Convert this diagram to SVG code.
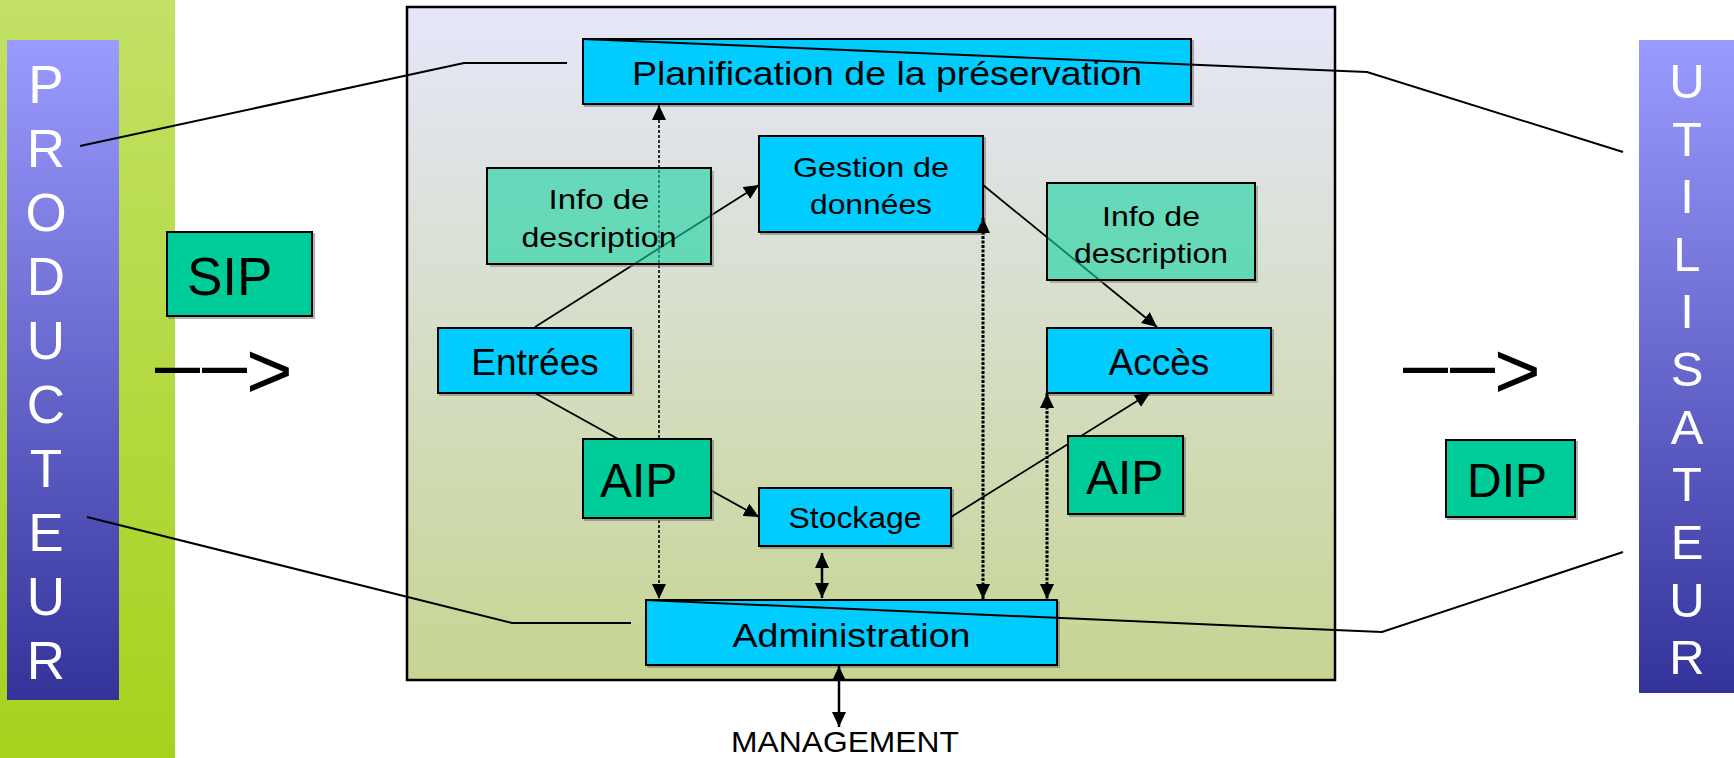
<svg xmlns="http://www.w3.org/2000/svg" width="1734" height="758" viewBox="0 0 1734 758">
  <defs>
    <linearGradient id="bandGreen" x1="0" y1="0" x2="0" y2="1">
      <stop offset="0" stop-color="#c3e166"/>
      <stop offset="1" stop-color="#a6d21e"/>
    </linearGradient>
    <linearGradient id="actorBlue" x1="0" y1="0" x2="0" y2="1">
      <stop offset="0" stop-color="#9b9bff"/>
      <stop offset="1" stop-color="#33339a"/>
    </linearGradient>
    <linearGradient id="systemFill" x1="0" y1="0" x2="0" y2="1">
      <stop offset="0" stop-color="#e6e6fa"/>
      <stop offset="1" stop-color="#c6d592"/>
    </linearGradient>
    <filter id="shadow" x="-5%" y="-5%" width="115%" height="120%">
      <feDropShadow dx="2" dy="2" stdDeviation="0.6" flood-color="#707070" flood-opacity="0.55"/>
    </filter>
    <marker id="tri" viewBox="0 0 15 14" refX="15" refY="7" markerWidth="15" markerHeight="14" markerUnits="userSpaceOnUse" orient="auto-start-reverse">
      <path d="M0,0 L15,7 L0,14 z" fill="#000"/>
    </marker>
  </defs>
  <style>
    .lbl { font-family: "Liberation Sans", Arial, sans-serif; fill: #000; }
    .mid { text-anchor: middle; }
    .actor { font-family: "Liberation Sans", Arial, sans-serif; fill: #fff; text-anchor: middle; }
    .func { fill: #00ccff; stroke: #000; stroke-width: 2; filter: url(#shadow); }
    .pkg { fill: #00cc99; stroke: #000; stroke-width: 2; filter: url(#shadow); }
    .info { fill: #16d3a2; fill-opacity: 0.6; stroke: #000; stroke-width: 2; }
    .edge { fill: none; stroke: #8a8a8a; stroke-opacity: 0.6; stroke-width: 2; }
    .wire { fill: none; stroke: #000; stroke-width: 2; }
    .flow { fill: none; stroke: #000; stroke-width: 1.8; marker-end: url(#tri); }
    .both { fill: none; stroke: #000; stroke-width: 2.5; marker-start: url(#tri); marker-end: url(#tri); }
    .dotThin { fill: none; stroke: #000; stroke-width: 1.6; stroke-dasharray: 3 2; marker-start: url(#tri); marker-end: url(#tri); }
    .dotBold { fill: none; stroke: #000; stroke-width: 3; stroke-dasharray: 3 1.5; marker-start: url(#tri); marker-end: url(#tri); }
  </style>

  <!-- producer side -->
  <g id="producteur">
    <rect x="0" y="0" width="175" height="758" fill="url(#bandGreen)"/>
    <rect x="7" y="40" width="112" height="660" fill="url(#actorBlue)"/>
    <g class="actor" font-size="53">
      <text x="46" y="103">P</text>
      <text x="46" y="167">R</text>
      <text x="46" y="231">O</text>
      <text x="46" y="295">D</text>
      <text x="46" y="359">U</text>
      <text x="46" y="423">C</text>
      <text x="46" y="487">T</text>
      <text x="46" y="551">E</text>
      <text x="46" y="615">U</text>
      <text x="46" y="679">R</text>
    </g>
  </g>

  <!-- consumer side -->
  <g id="utilisateur">
    <rect x="1639" y="40" width="95" height="653" fill="url(#actorBlue)"/>
    <g class="actor" font-size="49">
      <text x="1687" y="98">U</text>
      <text x="1687" y="156">T</text>
      <text x="1687" y="213">I</text>
      <text x="1687" y="271">L</text>
      <text x="1687" y="328">I</text>
      <text x="1687" y="386">S</text>
      <text x="1687" y="444">A</text>
      <text x="1687" y="501">T</text>
      <text x="1687" y="559">E</text>
      <text x="1687" y="617">U</text>
      <text x="1687" y="674">R</text>
    </g>
  </g>

  <!-- packages exchanged outside the archive -->
  <g id="sip">
    <rect class="pkg" x="167" y="232" width="145" height="84"/>
    <text class="lbl" x="187" y="295" font-size="53">SIP</text>
  </g>
  <g id="dip">
    <rect class="pkg" x="1446" y="440" width="129" height="77"/>
    <text class="lbl" x="1467" y="497" font-size="48">DIP</text>
  </g>
  <g id="flux-entree">
    <text class="lbl" font-size="80"><tspan x="155" y="391" textLength="45" lengthAdjust="spacingAndGlyphs">–</tspan><tspan x="202" y="391" textLength="45" lengthAdjust="spacingAndGlyphs">–</tspan><tspan x="246" y="398">&gt;</tspan></text>
  </g>
  <g id="flux-sortie">
    <text class="lbl" font-size="80"><tspan x="1403" y="391" textLength="45" lengthAdjust="spacingAndGlyphs">–</tspan><tspan x="1450" y="391" textLength="45" lengthAdjust="spacingAndGlyphs">–</tspan><tspan x="1494" y="398">&gt;</tspan></text>
  </g>

  <!-- archive frame -->
  <g id="archive">
    <rect x="407" y="7" width="928" height="673" fill="url(#systemFill)" stroke="#000" stroke-width="2.5"/>
  </g>

  <!-- functional entities -->
  <g id="planification">
    <rect class="func" x="583" y="39" width="608" height="65"/>
    <text class="lbl mid" x="887" y="85" font-size="32.5" textLength="510" lengthAdjust="spacingAndGlyphs">Planification de la préservation</text>
  </g>
  <g id="gestion">
    <rect class="func" x="759" y="136" width="224" height="96"/>
    <text class="lbl mid" x="871" y="177" font-size="28" textLength="156" lengthAdjust="spacingAndGlyphs">Gestion de</text>
    <text class="lbl mid" x="871" y="214" font-size="28" textLength="122" lengthAdjust="spacingAndGlyphs">données</text>
  </g>
  <g id="entrees">
    <rect class="func" x="438" y="328" width="193" height="65"/>
    <text class="lbl mid" x="535" y="375" font-size="37">Entrées</text>
  </g>
  <g id="acces">
    <rect class="func" x="1047" y="328" width="224" height="65"/>
    <text class="lbl mid" x="1159" y="375" font-size="37">Accès</text>
  </g>
  <g id="stockage">
    <rect class="func" x="759" y="488" width="192" height="58"/>
    <text class="lbl mid" x="855" y="528" font-size="30" textLength="133" lengthAdjust="spacingAndGlyphs">Stockage</text>
  </g>
  <g id="administration">
    <rect class="func" x="646" y="600" width="411" height="65"/>
    <text class="lbl mid" x="851.5" y="647" font-size="32.5" textLength="238" lengthAdjust="spacingAndGlyphs">Administration</text>
  </g>
  <g id="management">
    <text class="lbl mid" x="845" y="752" font-size="30" textLength="228" lengthAdjust="spacingAndGlyphs">MANAGEMENT</text>
  </g>

  <!-- connectors -->
  <g id="connectors">
    <polyline class="wire" points="80,146 464,63 567,63"/>
    <polyline class="wire" points="583,39 1367,72 1623,152"/>
    <polyline class="wire" points="87,517 512,623 631,623"/>
    <polyline class="wire" points="646,600 1382,632 1623,552"/>

    <path class="flow" d="M535,327 L759,185"/>
    <path class="flow" d="M535,393 L759,517"/>
    <path class="flow" d="M951,517 L1150,393"/>
    <path class="flow" d="M983,185 L1157,327"/>

    <path class="dotThin" d="M659,105 L659,599"/>
    <path class="dotBold" d="M983,218 L983,599"/>
    <path class="dotBold" d="M1047,393 L1047,599"/>

    <path class="both" d="M822,553 L822,598"/>
    <path class="both" d="M839,666 L839,727"/>
  </g>

  <!-- information packages inside the archive (translucent, lines show through) -->
  <g id="info-gauche">
    <polyline class="edge" points="713,171 713,266 490,266"/>
    <rect class="info" x="487" y="168" width="224" height="96"/>
    <text class="lbl mid" x="599" y="209" font-size="28" textLength="101" lengthAdjust="spacingAndGlyphs">Info de</text>
    <text class="lbl mid" x="599" y="247" font-size="28" textLength="155" lengthAdjust="spacingAndGlyphs">description</text>
  </g>
  <g id="info-droite">
    <polyline class="edge" points="1257,186 1257,282 1050,282"/>
    <rect class="info" x="1047" y="183" width="208" height="97"/>
    <text class="lbl mid" x="1151" y="226" font-size="28" textLength="98" lengthAdjust="spacingAndGlyphs">Info de</text>
    <text class="lbl mid" x="1151" y="263" font-size="28" textLength="154" lengthAdjust="spacingAndGlyphs">description</text>
  </g>
  <g id="aip-gauche">
    <rect class="pkg" x="583" y="439" width="128" height="79"/>
    <text class="lbl" x="600" y="497" font-size="48">AIP</text>
  </g>
  <g id="aip-droite">
    <rect class="pkg" x="1068" y="436" width="115" height="78"/>
    <text class="lbl" x="1086" y="494" font-size="48">AIP</text>
  </g>
</svg>
